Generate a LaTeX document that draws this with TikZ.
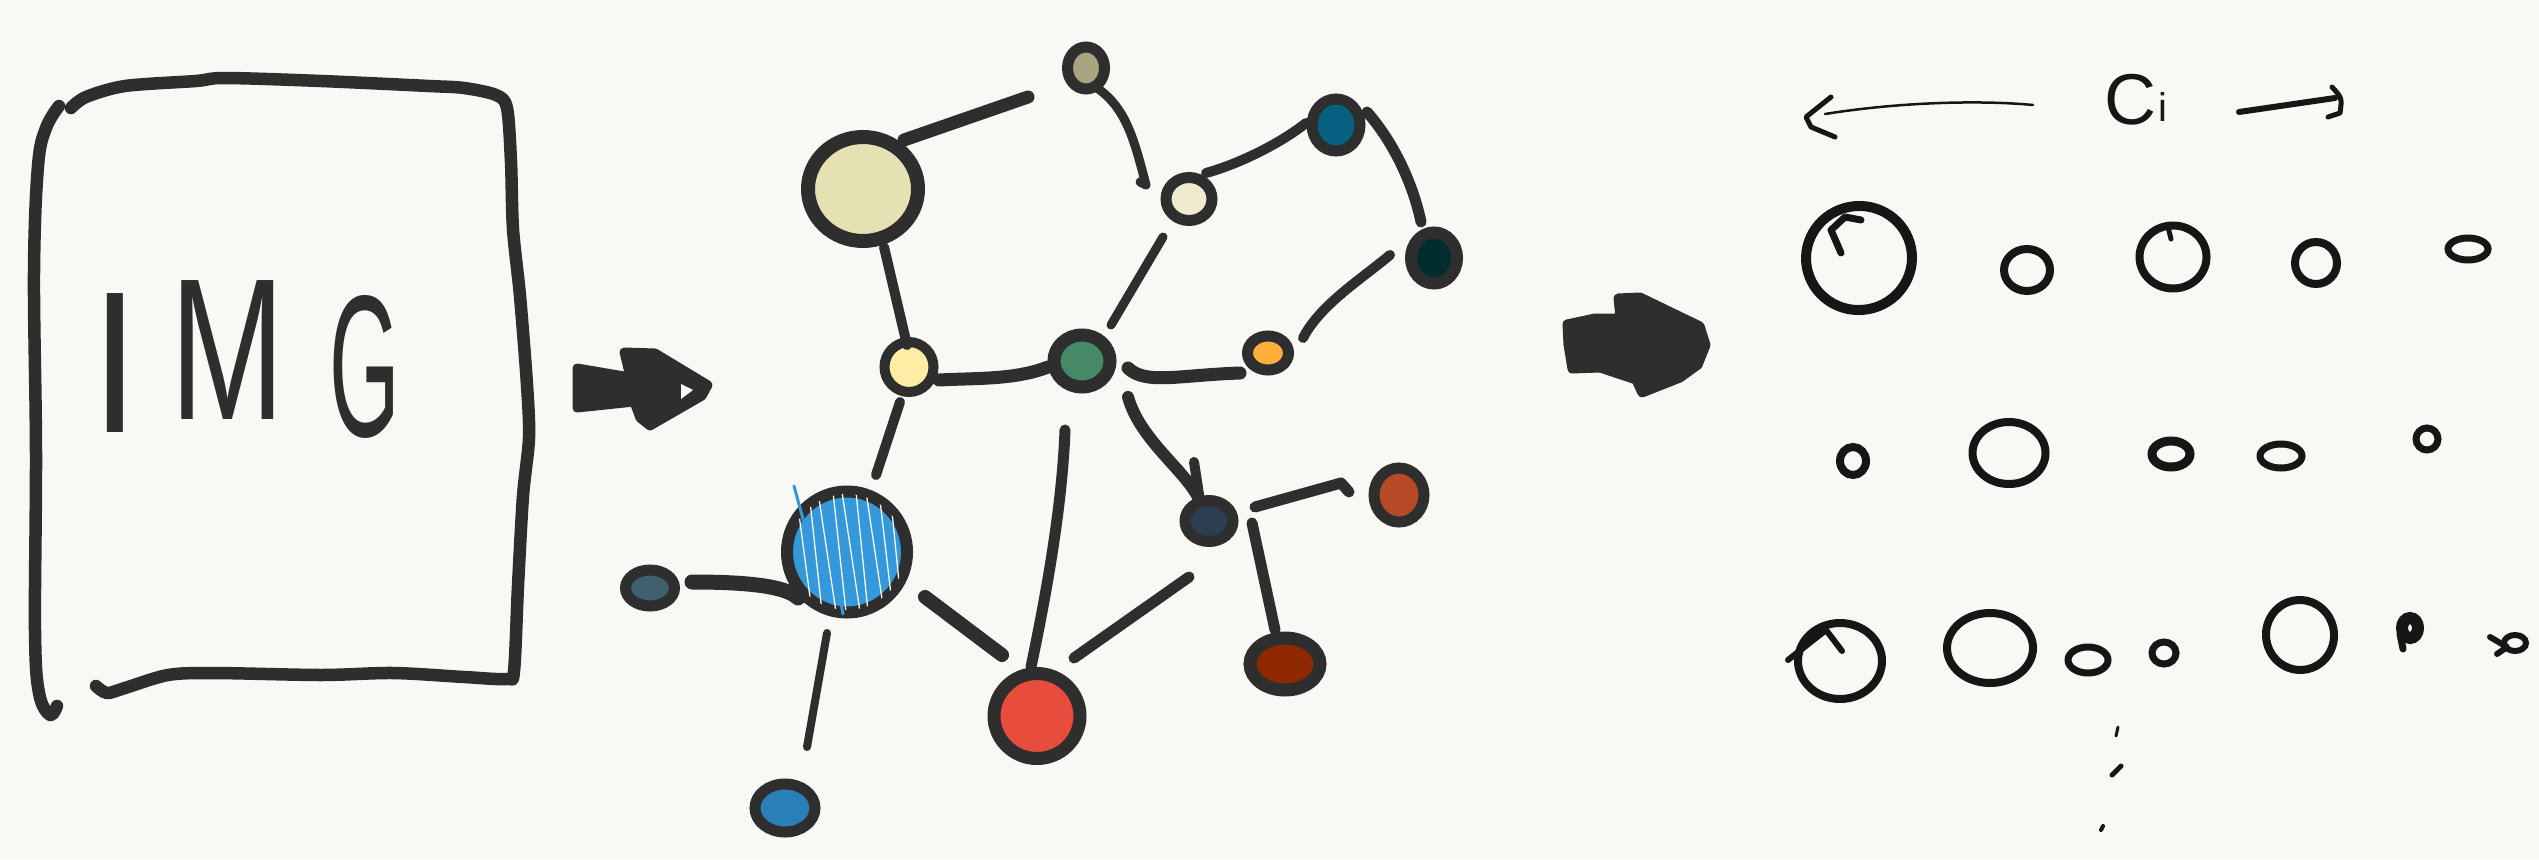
\documentclass[tikz,border=0pt]{standalone}
\usepackage{fontspec}
\setmainfont{Liberation Sans}
\usepackage{graphicx}
\usetikzlibrary{calc,shapes.geometric}
\definecolor{bg}{HTML}{F8F9F4}
\definecolor{ink}{HTML}{2E2E2E}
\definecolor{ink2}{HTML}{161616}
\definecolor{cA}{HTML}{E5E1B3}
\definecolor{cB}{HTML}{A9A480}
\definecolor{cC}{HTML}{EEEBCF}
\definecolor{cD}{HTML}{05617F}
\definecolor{cE}{HTML}{002E2E}
\definecolor{cF}{HTML}{FFEDA6}
\definecolor{cG}{HTML}{468966}
\definecolor{cH}{HTML}{FFB03B}
\definecolor{cI}{HTML}{3498DB}
\definecolor{cJ}{HTML}{3F5E6E}
\definecolor{cK}{HTML}{2980B9}
\definecolor{cL}{HTML}{E74C3C}
\definecolor{cM}{HTML}{2C3E50}
\definecolor{cN}{HTML}{B64926}
\definecolor{cO}{HTML}{8E2800}
\tikzset{
  gnode/.style={ellipse, draw=ink, line width=12pt, inner sep=0pt},
  edge/.style={draw=ink, line width=11pt, line cap=round, line join=round},
  fnode/.style={ellipse, draw=ink2, line width=8pt, inner sep=0pt},
  pen/.style={draw=ink2, line width=5pt, line cap=round, line join=round},
  boxline/.style={draw=ink, line width=12.5pt, line cap=round, line join=round},
  blob/.style={fill=ink, draw=ink, line width=9pt, line join=round},
  letter/.style={inner sep=0pt, text=ink, font=\fontsize{202}{202}\selectfont},
}
\begin{document}
\begin{tikzpicture}[x=1pt,y=-1pt]
\fill[bg] (0,0) rectangle (2539,859);
\useasboundingbox (0,0) rectangle (2539,859);

% ---------- IMG box ----------
\draw[boxline] plot[smooth, tension=0.6] coordinates {(59,106) (46,128) (38,166) (34,273) (36,452) (35,630) (39,693) (50,715) (57,706)};
\draw[boxline] plot[smooth, tension=0.5] coordinates {(71,108) (86,97) (125,86) (196,81) (225,78) (321,81) (429,86) (464,88) (496,95) (507,108) (511,162) (513,229) (520,296) (527,385) (529,438) (523,496) (518,586) (514,671) (507,679) (464,677) (393,673) (321,675) (214,673) (168,675) (125,688) (107,693) (96,686)};
\node[letter] (tI) at (115,363) {\scalebox{0.85}[1]{I}};
\node[letter] (tM) at (228,350) {\scalebox{0.68}[1]{M}};
\node[letter] (tG) at (365,367) {\scalebox{0.45}[1]{G}};

% ---------- arrow 1 ----------
\filldraw[blob] (577,368) -- (630,377) -- (624,352) -- (655,353) -- (708,385) -- (702,396) -- (650,426) -- (640,418) -- (634,402) -- (577,408) -- cycle;
\fill[bg] (681,384) -- (693,390) -- (681,399) -- cycle;

% ---------- graph nodes ----------
\node[gnode, line width=14pt, fill=cA, minimum width=110pt, minimum height=104pt] (n1) at (863,189) {};
\node[gnode, line width=11pt, fill=cB, minimum width=37pt, minimum height=42pt] (n2) at (1086,68) {};
\node[gnode, line width=11pt, fill=cC, minimum width=46pt, minimum height=43pt] (n3) at (1189,199) {};
\node[gnode, line width=11pt, fill=cD, minimum width=48pt, minimum height=52pt] (n4) at (1336,125) {};
\node[gnode, line width=12pt, fill=cE, minimum width=46pt, minimum height=51pt] (n5) at (1434,258) {};
\node[gnode, line width=10pt, fill=cF, minimum width=49pt, minimum height=50pt] (n6) at (909,367) {};
\node[gnode, line width=13pt, fill=cG, minimum width=56pt, minimum height=52pt] (n7) at (1082,361) {};
\node[gnode, line width=11pt, fill=cH, minimum width=41pt, minimum height=34pt] (n8) at (1268,353) {};
\node[gnode, line width=12pt, fill=cI, minimum width=120pt, minimum height=121pt] (n9) at (847,552) {};
\begin{scope}
  \clip (847,552) ellipse [x radius=58pt, y radius=58pt];
  \foreach \a/\b in {796/812, 809/822, 818/836, 833/846, 842/860, 856/868, 866/884, 879/893, 890/902} {
    \draw[bg, line width=1.3pt] (\a,492) -- (\b,612);
  }
\end{scope}
\draw[cI, line width=3pt, line cap=round] (794,486) -- (806,530);
\draw[cI, line width=3pt, line cap=round] (840,598) -- (843,614);
\node[gnode, line width=11pt, fill=cJ, minimum width=49pt, minimum height=36pt] (n10) at (650,588) {};
\node[gnode, line width=11pt, fill=cK, minimum width=60pt, minimum height=48pt] (n11) at (785,808) {};
\node[gnode, line width=13pt, fill=cL, minimum width=86pt, minimum height=85pt] (n12) at (1037,716) {};
\node[gnode, line width=11pt, fill=cM, minimum width=48pt, minimum height=41pt] (n13) at (1209,521) {};
\node[gnode, line width=11pt, fill=cN, minimum width=50pt, minimum height=54pt] (n14) at (1399,495) {};
\node[gnode, line width=13pt, fill=cO, minimum width=70pt, minimum height=52pt] (n15) at (1285,664) {};

% ---------- graph edges ----------
\draw[edge, line width=13pt] ($(n1)+(41,-49)$) -- ($(n2)+(-58,29)$);
\draw[edge, line width=9pt] ($(n2)+(11,20)$) .. controls ($(n2)+(40,40)$) and ($(n3)+(-55,-60)$) .. ($(n3)+(-43,-14)$) -- ($(n3)+(-49,-17)$);
\draw[edge, line width=10pt] ($(n3)+(17,-26)$) .. controls ($(n3)+(50,-35)$) and ($(n4)+(-55,18)$) .. ($(n4)+(-30,-2)$);
\draw[edge, line width=11pt] ($(n4)+(31,-13)$) .. controls ($(n4)+(60,20)$) and ($(n5)+(-20,-70)$) .. ($(n5)+(-13,-36)$);
\draw[edge, line width=10pt] ($(n1)+(21,58)$) -- ($(n6)+(-2,-22)$);
\draw[edge, line width=13pt] ($(n6)+(30,13)$) .. controls ($(n6)+(66,11)$) and ($(n7)+(-67,19)$) .. ($(n7)+(-34,6)$);
\draw[edge, line width=9pt] ($(n7)+(29,-36)$) -- ($(n3)+(-26,38)$);
\draw[edge, line width=13pt] ($(n7)+(46,7)$) .. controls ($(n7)+(63,24)$) and ($(n8)+(-88,22)$) .. ($(n8)+(-28,20)$);
\draw[edge, line width=10pt] ($(n8)+(35,-15)$) .. controls ($(n8)+(52,-48)$) and ($(n5)+(-74,22)$) .. ($(n5)+(-44,-3)$);
\draw[edge, line width=10pt] ($(n6)+(-9,35)$) -- ($(n9)+(29,-77)$);
\draw[edge, line width=15pt] ($(n10)+(42,-6)$) .. controls ($(n10)+(90,-6)$) and ($(n9)+(-62,33)$) .. ($(n9)+(-49,46)$);
\draw[edge, line width=8pt] ($(n9)+(-20,81)$) -- ($(n11)+(22,-61)$);
\draw[edge, line width=14pt] ($(n9)+(78,45)$) -- ($(n12)+(-35,-61)$);
\draw[edge, line width=11pt] ($(n7)+(-17,69)$) .. controls ($(n7)+(-20,149)$) and ($(n12)+(8,-116)$) .. ($(n12)+(-6,-49)$);
\draw[edge, line width=11pt] ($(n13)+(-20,56)$) -- ($(n12)+(37,-58)$);
\draw[edge, line width=12pt] ($(n7)+(46,36)$) .. controls ($(n7)+(58,79)$) and ($(n13)+(-24,-51)$) .. ($(n13)+(-10,-22)$);
\draw[edge, line width=10pt] ($(n13)+(-15,-59)$) -- ($(n13)+(-9,-20)$);
\draw[edge, line width=11pt] ($(n13)+(46,-14)$) -- ($(n14)+(-58,-12)$) -- ($(n14)+(-50,-3)$);
\draw[edge, line width=11pt] ($(n13)+(43,2)$) -- ($(n15)+(-10,-34)$);

% ---------- arrow 2 ----------
\filldraw[blob] (1567,324) -- (1595,318) -- (1620,318) -- (1618,298) -- (1640,297) -- (1700,326) -- (1706,345) -- (1698,365) -- (1680,378) -- (1642,393) -- (1636,380) -- (1600,368) -- (1572,369) -- (1568,345) -- cycle;

% ---------- top label with arrows ----------
\draw[pen, line width=2.5pt] (2033,105) .. controls (1980,100) and (1900,102) .. (1825,114);
\draw[pen] (1831,97) -- (1806,117) -- (1811,127) -- (1835,137);
\node[inner sep=0pt, text=ink2, font=\fontsize{72}{72}\selectfont] (lab) at (2130,100) {C};
\node[inner sep=0pt, text=ink2, font=\fontsize{40}{40}\selectfont, anchor=north west] (labi) at (2158,92) {i};
\draw[pen, line width=6pt] ($(lab)+(109,12)$) -- ($(lab)+(205,-2)$);
\draw[pen] ($(lab)+(202,-13)$) .. controls ($(lab)+(212,-2)$) .. ($(lab)+(210,13)$) -- ($(lab)+(198,17)$);

% ---------- right feature circles ----------
\node[fnode, line width=10pt, minimum width=106pt, minimum height=104pt, rotate=10] (c1) at (1859,258) {};
\draw[pen, line width=7pt] ($(c1)+(2,-38)$) -- ($(c1)+(-14,-41)$) -- ($(c1)+(-28,-28)$) -- ($(c1)+(-18,-5)$);
\node[fnode, minimum width=46pt, minimum height=42pt] (c2) at (2027,270) {};
\node[fnode, minimum width=67pt, minimum height=63pt] (c3) at (2173,257) {};
\draw[pen, line width=5pt] ($(c3)+(-5,-30)$) -- ($(c3)+(-2,-18)$);
\node[fnode, minimum width=42pt, minimum height=42pt] (c4) at (2316,263) {};
\node[fnode, line width=7pt, minimum width=40pt, minimum height=22pt] (c5) at (2468,249) {};

\node[fnode, minimum width=26pt, minimum height=28pt] (c6) at (1853,461) {};
\node[fnode, minimum width=73pt, minimum height=62pt] (c7) at (2009,453) {};
\node[fnode, line width=9pt, minimum width=38pt, minimum height=26pt] (c8) at (2171,454) {};
\node[fnode, line width=7pt, minimum width=42pt, minimum height=24pt] (c9) at (2281,456) {};
\node[fnode, line width=7pt, minimum width=22pt, minimum height=22pt] (c10) at (2427,439) {};

\node[fnode, minimum width=84pt, minimum height=76pt] (c11) at (1840,661) {};
\draw[pen, line width=6pt] ($(c11)+(-52,-1)$) -- ($(c11)+(-14,-31)$) -- ($(c11)+(2,-10)$);
\node[fnode, minimum width=86pt, minimum height=70pt] (c12) at (1990,648) {};
\node[fnode, line width=7pt, minimum width=40pt, minimum height=26pt] (c13) at (2088,660) {};
\node[fnode, line width=7pt, minimum width=24pt, minimum height=22pt] (c14) at (2164,653) {};
\node[fnode, minimum width=68pt, minimum height=70pt, rotate=10] (c15) at (2300,635) {};
\node[fnode, line width=12pt, minimum width=16pt, minimum height=20pt] (c16) at (2410,628) {};
\draw[pen, line width=7pt] ($(c16)+(-10,6)$) -- ($(c16)+(-7,21)$);
\node[fnode, line width=6pt, minimum width=22pt, minimum height=16pt] (c17) at (2515,643) {};
\draw[pen, line width=6pt] ($(c17)+(-25,-6)$) -- ($(c17)+(-8,4)$) -- ($(c17)+(-18,11)$);

% dots
\draw[pen, line width=3pt] (2116,736) -- (2118,727);
\draw[pen, line width=5pt] (2112,775) -- (2121,766);
\draw[pen, line width=4pt] (2101,830) -- (2103,826);
\end{tikzpicture}
\end{document}
